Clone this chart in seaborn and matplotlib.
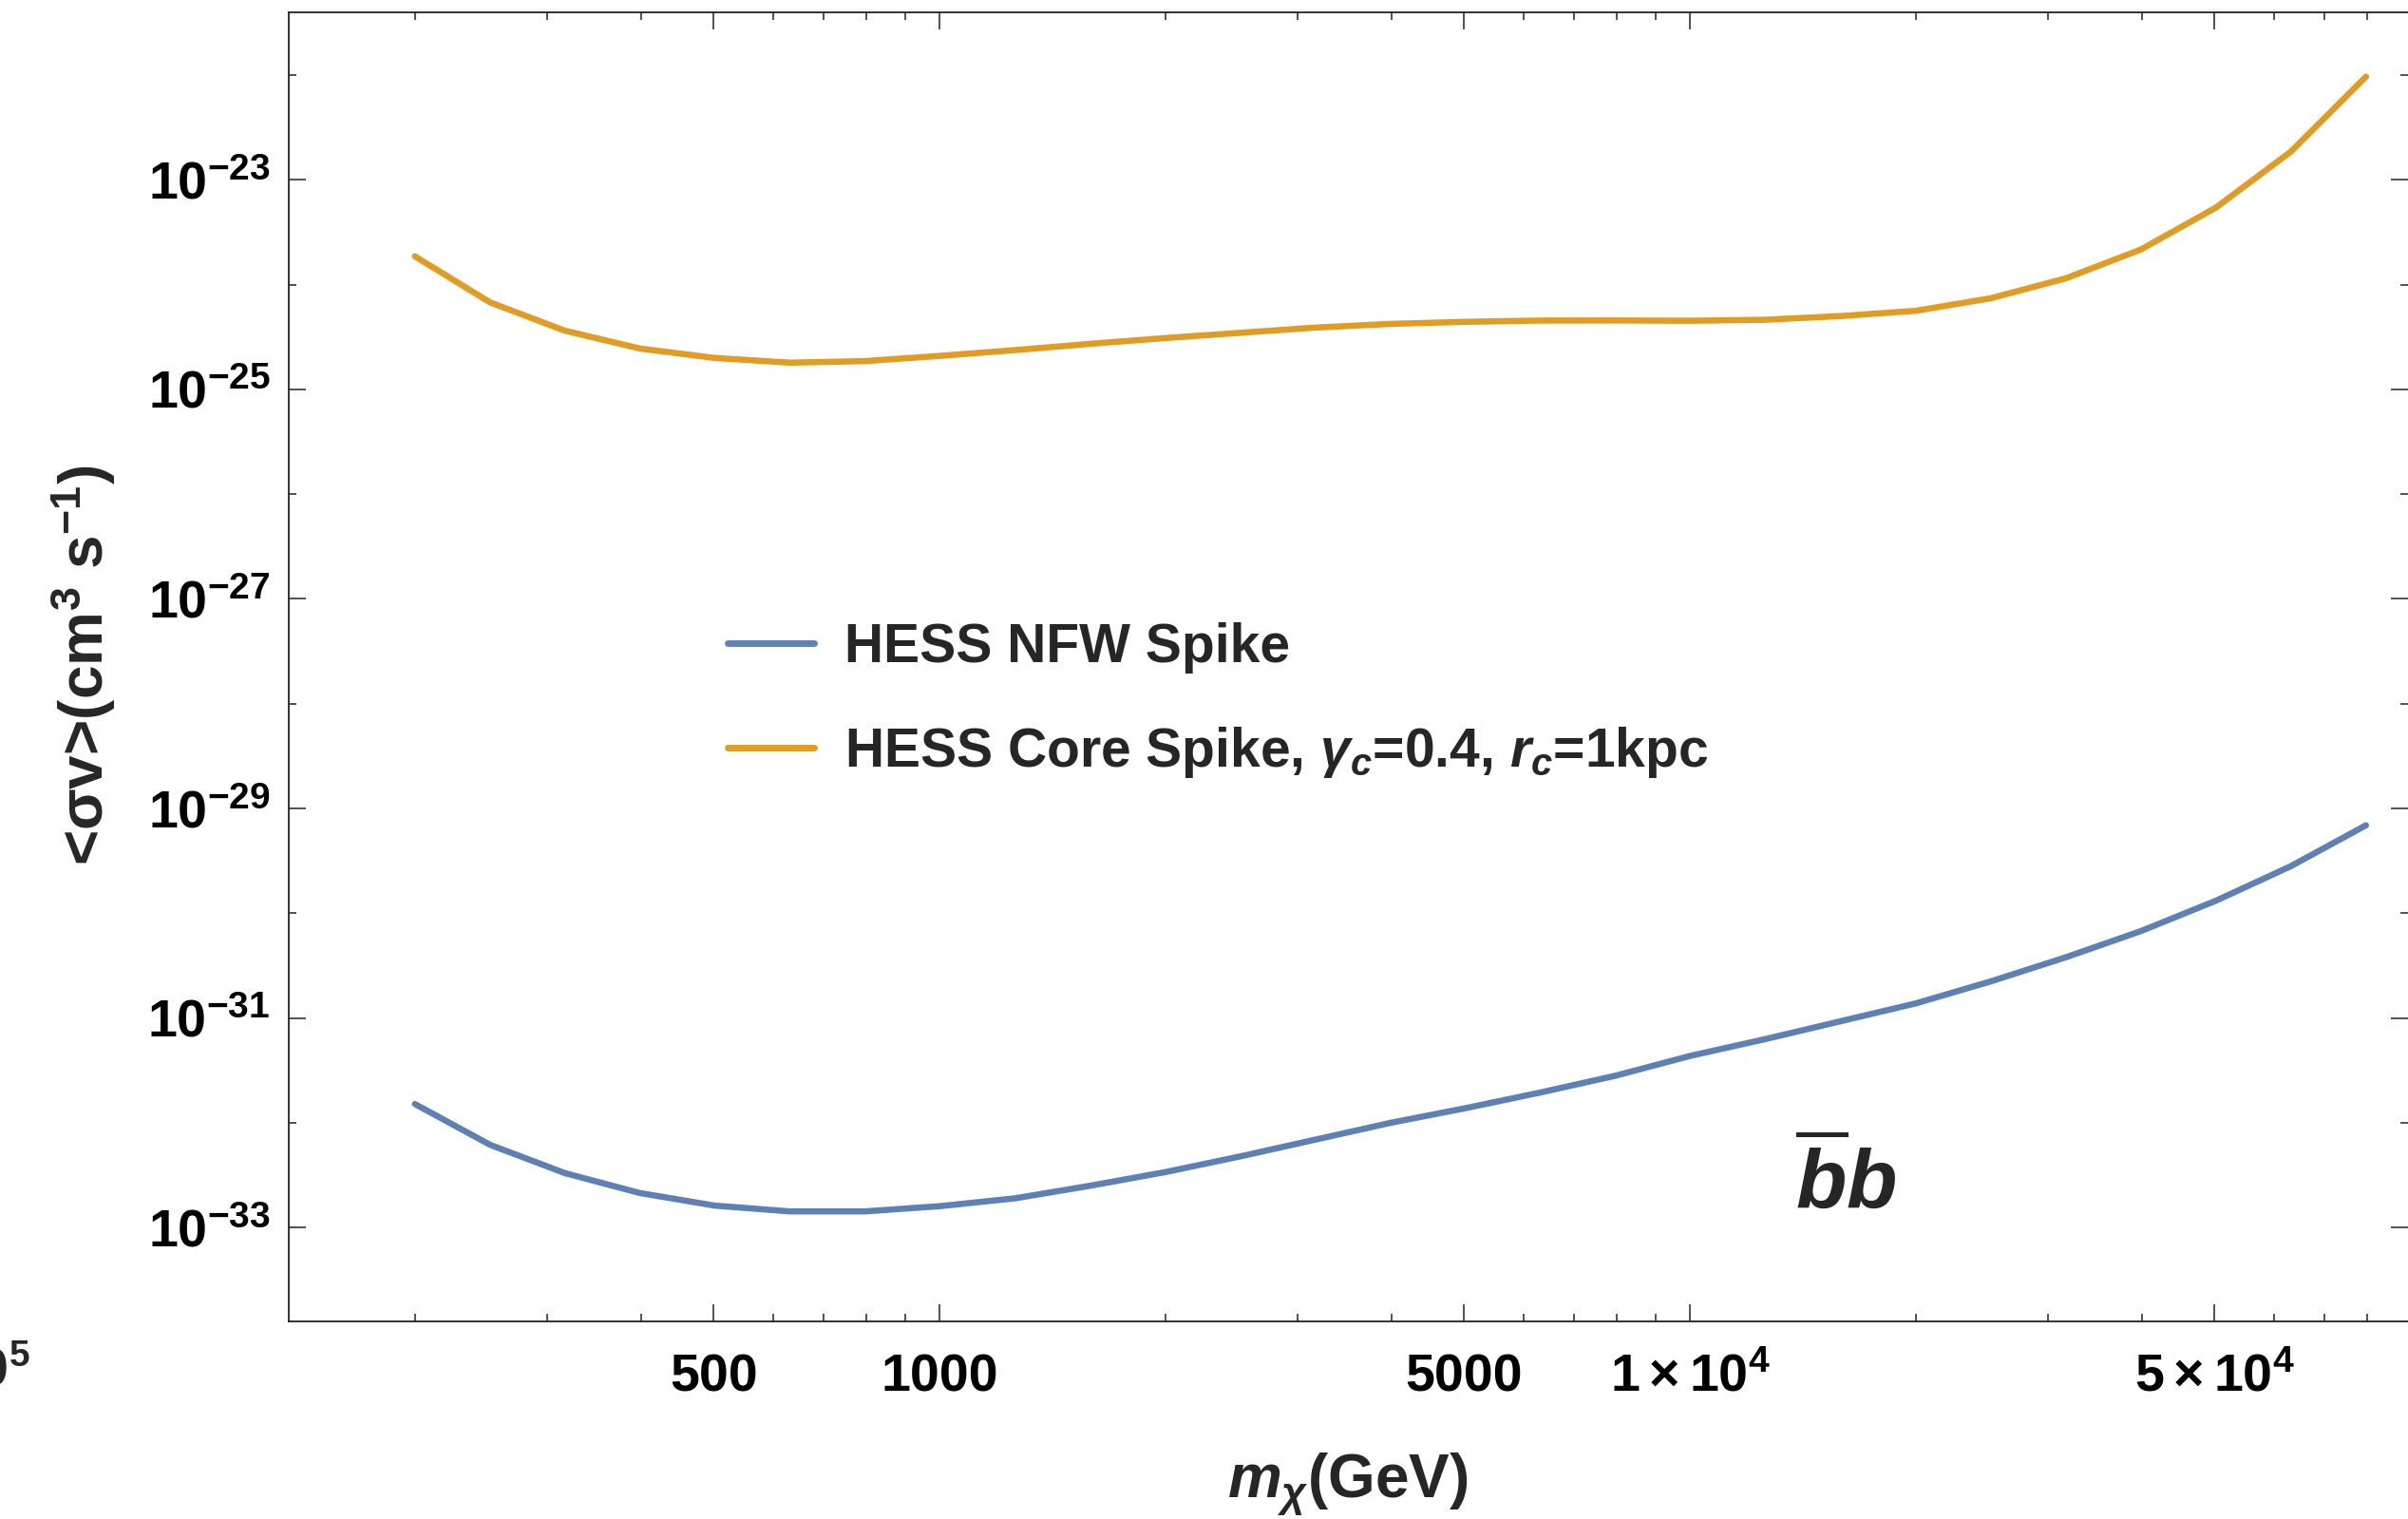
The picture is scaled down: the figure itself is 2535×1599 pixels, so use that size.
import matplotlib
matplotlib.use("Agg")
import matplotlib.pyplot as plt
import numpy as np
import pandas as pd
import seaborn as sns

# Dark matter mass grid (GeV)
mass = [200, 252, 317, 399, 502, 632, 796, 1002, 1262, 1589, 2000, 2518, 3170,
        3991, 5024, 6325, 7962, 10024, 12619, 15887, 20000, 25179, 31698,
        39905, 50238, 63246, 79621]

# log10 of <sigma v> (cm^3 s^-1)
log_sv_nfw = [-31.82, -32.21, -32.48, -32.67, -32.79, -32.845, -32.845, -32.795,
              -32.72, -32.60, -32.47, -32.32, -32.16, -32.00, -31.86, -31.71,
              -31.55, -31.36, -31.20, -31.03, -30.86, -30.65, -30.42, -30.17,
              -29.88, -29.55, -29.16]
log_sv_core = [-23.73, -24.17, -24.44, -24.61, -24.70, -24.745, -24.73, -24.68,
               -24.625, -24.565, -24.51, -24.46, -24.41, -24.375, -24.355, -24.343,
               -24.342, -24.345, -24.335, -24.30, -24.25, -24.13, -23.94, -23.665,
               -23.265, -22.73, -22.015]

labels = ['HESS NFW Spike', r'HESS Core Spike, $\gamma_c$=0.4, $r_c$=1kpc']
colors = ['#5E81B5', '#E19C24']

# Tick setup
xticks = [500, 1000, 5000, 10000, 50000]
xtick_labels = ['500', '1000', '5000', r'$\mathrm{1\times10^{4}}$', r'$\mathrm{5\times10^{4}}$']
xminor = [200, 300, 400, 600, 700, 800, 900, 2000, 3000, 4000, 6000, 7000, 8000,
          9000, 20000, 30000, 40000, 60000, 70000, 80000]
yexp = [-33, -31, -29, -27, -25, -23]
yexp_minor = [-32, -30, -28, -26, -24, -22]

sns.set_theme(style='ticks')
plt.rcParams['font.family'] = ['Liberation Sans', 'DejaVu Sans']
plt.rcParams['font.weight'] = 'bold'
plt.rcParams['mathtext.fontset'] = 'custom'
plt.rcParams['mathtext.rm'] = 'Liberation Sans:bold'
plt.rcParams['mathtext.bf'] = 'Liberation Sans:bold'
plt.rcParams['mathtext.it'] = 'Liberation Sans:italic:bold'

df = pd.DataFrame({'mass': mass * 2,
                   'sv': list(np.power(10.0, log_sv_nfw)) + list(np.power(10.0, log_sv_core)),
                   'model': [labels[0]] * len(mass) + [labels[1]] * len(mass)})

fig = plt.figure(figsize=(25.35, 15.99), dpi=100)
ax = fig.add_axes([304 / 2535, 1 - 1391 / 1599, 1 - 304 / 2535, (1391 - 12.5) / 1599])
ax.set_xscale('log')
ax.set_yscale('log')

sns.lineplot(data=df, x='mass', y='sv', hue='model', palette=colors,
             hue_order=labels, estimator=None, sort=True, lw=4.7, ax=ax)

ax.set_xlim(10 ** 2.133, 10 ** 4.957)
ax.set_ylim(10 ** -33.895, 10 ** -21.397)

ax.set_xticks(xticks)
ax.set_xticklabels(xtick_labels)
ax.set_xticks(xminor, minor=True)
ax.set_xticklabels([], minor=True)
ax.set_yticks([10.0 ** e for e in yexp])
ax.set_yticklabels([r'$\mathrm{10^{%d}}$' % e for e in yexp])
ax.set_yticks([10.0 ** e for e in yexp_minor], minor=True)
ax.set_yticklabels([], minor=True)

ax.tick_params(which='both', direction='in', top=True, right=True, width=1.1,
               color='#222222', labelsize=40, labelcolor='black')
ax.tick_params(which='major', length=13)
ax.tick_params(which='minor', length=6)
ax.tick_params(axis='x', pad=24)
ax.tick_params(axis='y', pad=14)

for s in ['left', 'bottom', 'top']:
    ax.spines[s].set_color('#222222')
    ax.spines[s].set_linewidth(1.3)
ax.spines['right'].set_visible(False)

ax.set_xlabel('')
ax.set_ylabel('')
fig.text(1419 / 2535, 1 - 1562 / 1599, r'$m_\chi$(GeV)', fontsize=46,
         ha='center', va='center')
fig.text(88 / 2535, 1 - 700 / 1599, r'<σv>(cm$^{\mathrm{3}}$ s$^{\mathrm{-1}}$)',
         fontsize=46, rotation=90, ha='center', va='center')

fig.text(1943 / 2535, 1 - 1245 / 1599, r'$\overline{b}b$', fontsize=63,
         ha='center', va='center')

# cut-off label from the neighbouring panel
fig.text(32 / 2535, 1 - 1458 / 1599, r'$\mathrm{10^{5}}$', fontsize=40,
         ha='right', va='baseline')

leg = ax.legend(loc='upper left', bbox_to_anchor=(766 / 2535, 1 - 655 / 1599),
                bbox_transform=fig.transFigure, frameon=False, fontsize=41,
                handlelength=1.6, handletextpad=0.56, labelspacing=0.95,
                borderpad=0, borderaxespad=0)
for line in leg.get_lines():
    line.set_linewidth(5.0)

fig.savefig('out.png', dpi=100, facecolor='white')
